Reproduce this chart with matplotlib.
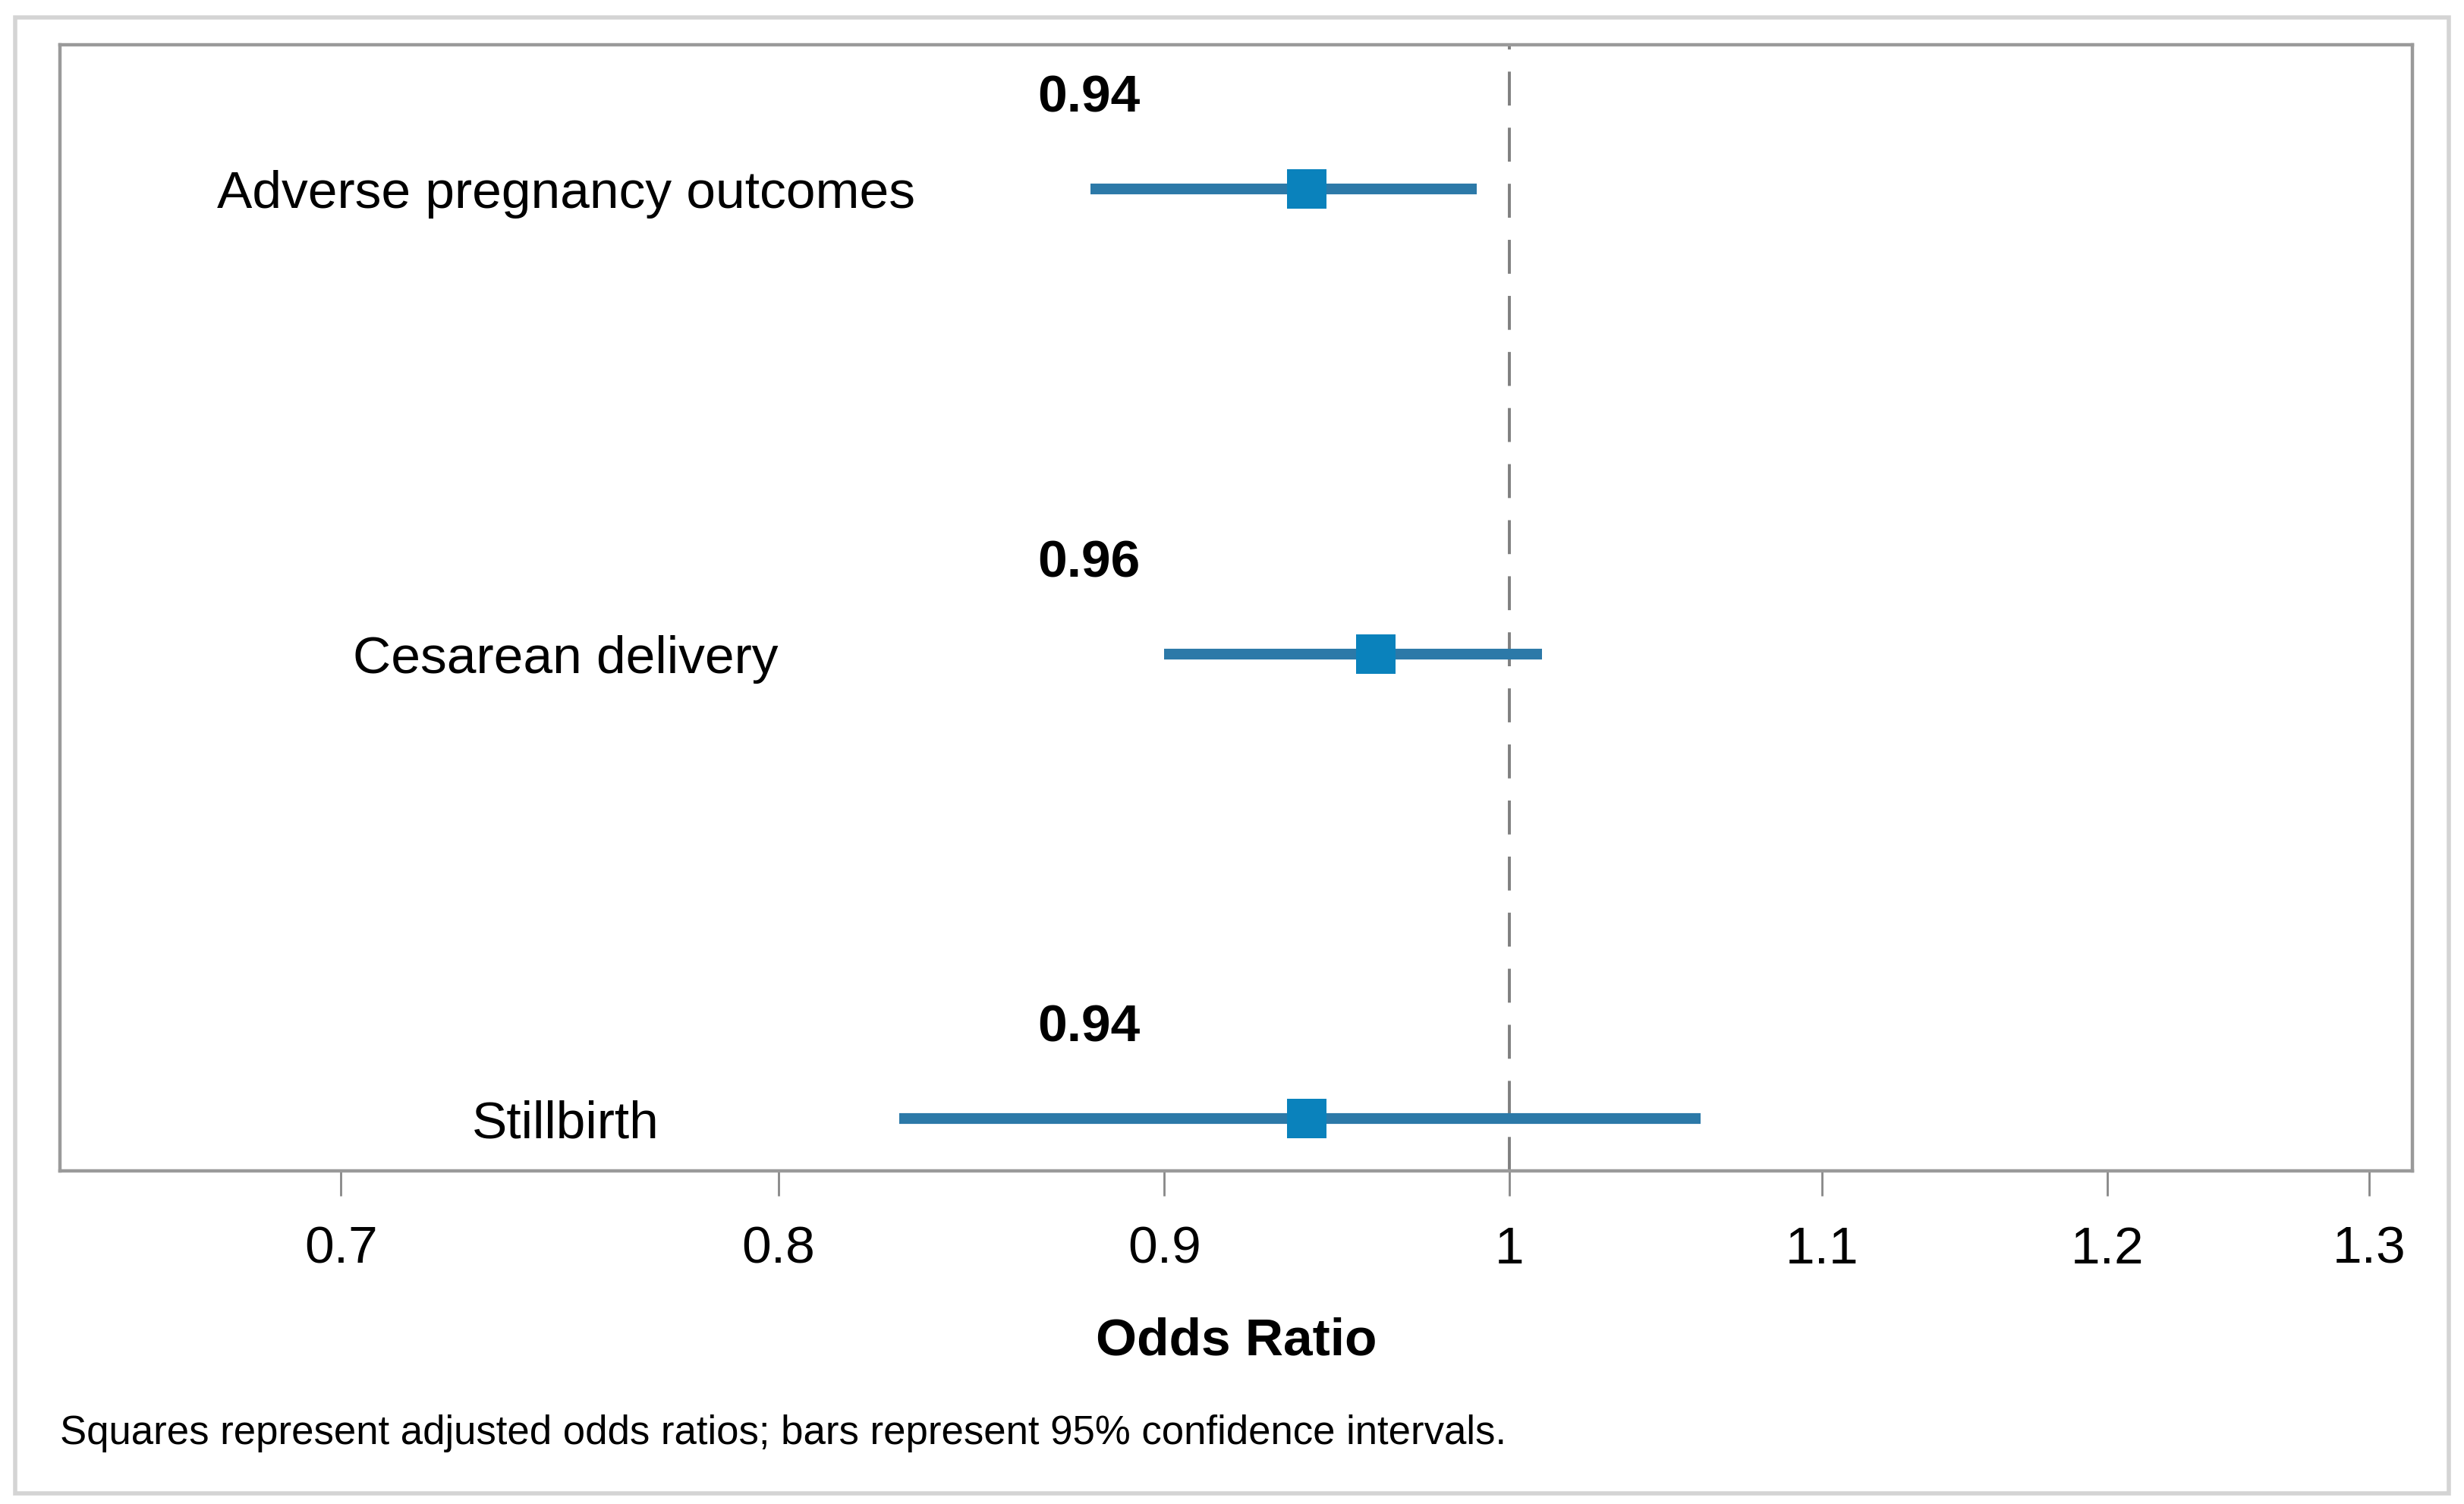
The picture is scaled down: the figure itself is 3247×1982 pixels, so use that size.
import numpy as np
import matplotlib
matplotlib.use("Agg")
import matplotlib.pyplot as plt
from matplotlib.patches import Rectangle
from matplotlib.ticker import FixedLocator, NullLocator

plt.rcParams['font.family'] = ['Liberation Sans', 'DejaVu Sans']

#data
outcomes = ["Adverse pregnancy outcomes", "Cesarean delivery", "Stillbirth"]
odds_ratio = [0.94, 0.96, 0.94]
ci_lower = [0.88, 0.90, 0.83]
ci_upper = [0.99, 1.01, 1.06]
or_labels = ["0.94", "0.96", "0.94"]

tick_values = [0.7, 0.8, 0.9, 1.0, 1.1, 1.2, 1.3]
tick_labels = ["0.7", "0.8", "0.9", "1", "1.1", "1.2", "1.3"]

LINE_COLOR = "#2C79A8"
SQUARE_COLOR = "#0A82BC"
FRAME_COLOR = "#9A9A9A"

DPI = 200
W, H = 3247, 1982

fig = plt.figure(figsize=(W / DPI, H / DPI), dpi=DPI)
ax = fig.add_axes([79 / W, 1 - 1543 / H, 3100 / W, 1484 / H])

#outer light frame
fig.patches.append(Rectangle((20 / W, 1 - 1968 / H), 3207 / W, 1945 / H,
                             transform=fig.transFigure, fill=False,
                             edgecolor="#D4D4D4", linewidth=2.0))

ypos = np.arange(len(outcomes))

#confidence intervals and squares
ax.hlines(ypos, ci_lower, ci_upper, color=LINE_COLOR, linewidth=5.1, capstyle="butt", zorder=3)
ax.plot(odds_ratio, ypos, linestyle="none", marker="s", markersize=19,
        color=SQUARE_COLOR, markeredgewidth=0, zorder=4)

#reference line
ax.axvline(1.0, color="#7F7F7F", linewidth=1.4, dashes=(11.5, 7.5), zorder=2)

#labels inside plot
trans = ax.get_yaxis_transform()
for i in range(len(outcomes)):
    ax.text(0.215, ypos[i], outcomes[i], transform=trans, ha="center", va="center_baseline",
            fontsize=25, color="black")
    ax.text(0.4375, ypos[i] - 0.195, or_labels[i], transform=trans, ha="center", va="center",
            fontsize=25, fontweight="bold", color="black")

#axes
ax.set_xscale("log")
ax.set_xlim(0.6425, 1.3172)
ax.set_ylim(2.112, -0.31)
ax.xaxis.set_major_locator(FixedLocator(tick_values))
ax.xaxis.set_minor_locator(NullLocator())
ax.set_xticklabels(tick_labels)
ax.set_yticks([])
ax.tick_params(axis="x", direction="out", length=11.9, width=1.0, color="#888888",
               pad=14, labelsize=25, labelcolor="black")

for s in ax.spines.values():
    s.set_color(FRAME_COLOR)
    s.set_linewidth(1.6)

ax.set_xlabel("Odds Ratio", fontsize=25, fontweight="bold", va="center")
ax.xaxis.set_label_coords(0.5, -0.151)

fig.text(79 / W, 1 - 1889 / H,
         "Squares represent adjusted odds ratios; bars represent 95% confidence intervals.",
         ha="left", va="center", fontsize=19, color="black")

plt.savefig("out.png", dpi=DPI)
